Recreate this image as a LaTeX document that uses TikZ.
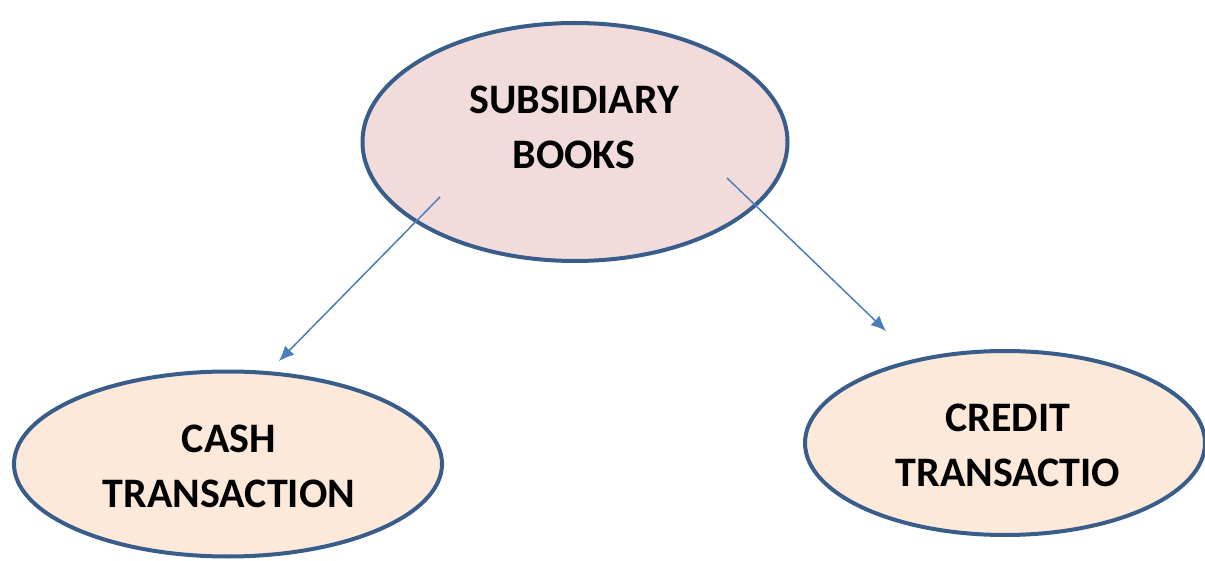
\documentclass[tikz,border=0pt]{standalone}
\usepackage{fontspec}
\setmainfont{Carlito}
\usetikzlibrary{shapes.geometric,arrows.meta}
\definecolor{edgeblue}{HTML}{385D8A}
\definecolor{arrowblue}{HTML}{4A7EBB}
\definecolor{pinkfill}{HTML}{F2DCDB}
\definecolor{peachfill}{HTML}{FDE9D9}
\tikzset{
  bubble/.style={ellipse, draw=edgeblue, line width=4pt, align=center, inner sep=0pt},
  label/.style={font=\fontsize{42}{55}\selectfont\bfseries, align=center},
  link/.style={draw=arrowblue, line width=1.5pt, -{Latex[length=15pt,width=13pt]}}
}
\begin{document}
\begin{tikzpicture}[x=1pt,y=-1pt]
\useasboundingbox (0,0) rectangle (1205,561);
\node[bubble, fill=pinkfill, minimum width=425pt, minimum height=238pt] (top) at (575,142) {};
\node[label] (toptext) at (574,127) {SUBSIDIARY\\BOOKS};
\node[bubble, fill=peachfill, minimum width=428pt, minimum height=185pt] (cash) at (228,464) {};
\node[label] (cashtext) at (229,466) {CASH\\TRANSACTION};
\node[bubble, fill=peachfill, minimum width=400pt, minimum height=184pt] (credit) at (1005,443) {};
\node[label] (credittext) at (1008,445) {CREDIT\\TRANSACTIO};
\coordinate (s1) at (440,197);
\coordinate (e1) at (279,361);
\coordinate (s2) at (727,178);
\coordinate (e2) at (886,331);
\draw[link] (s1) -- (e1);
\draw[link] (s2) -- (e2);
\end{tikzpicture}
\end{document}
